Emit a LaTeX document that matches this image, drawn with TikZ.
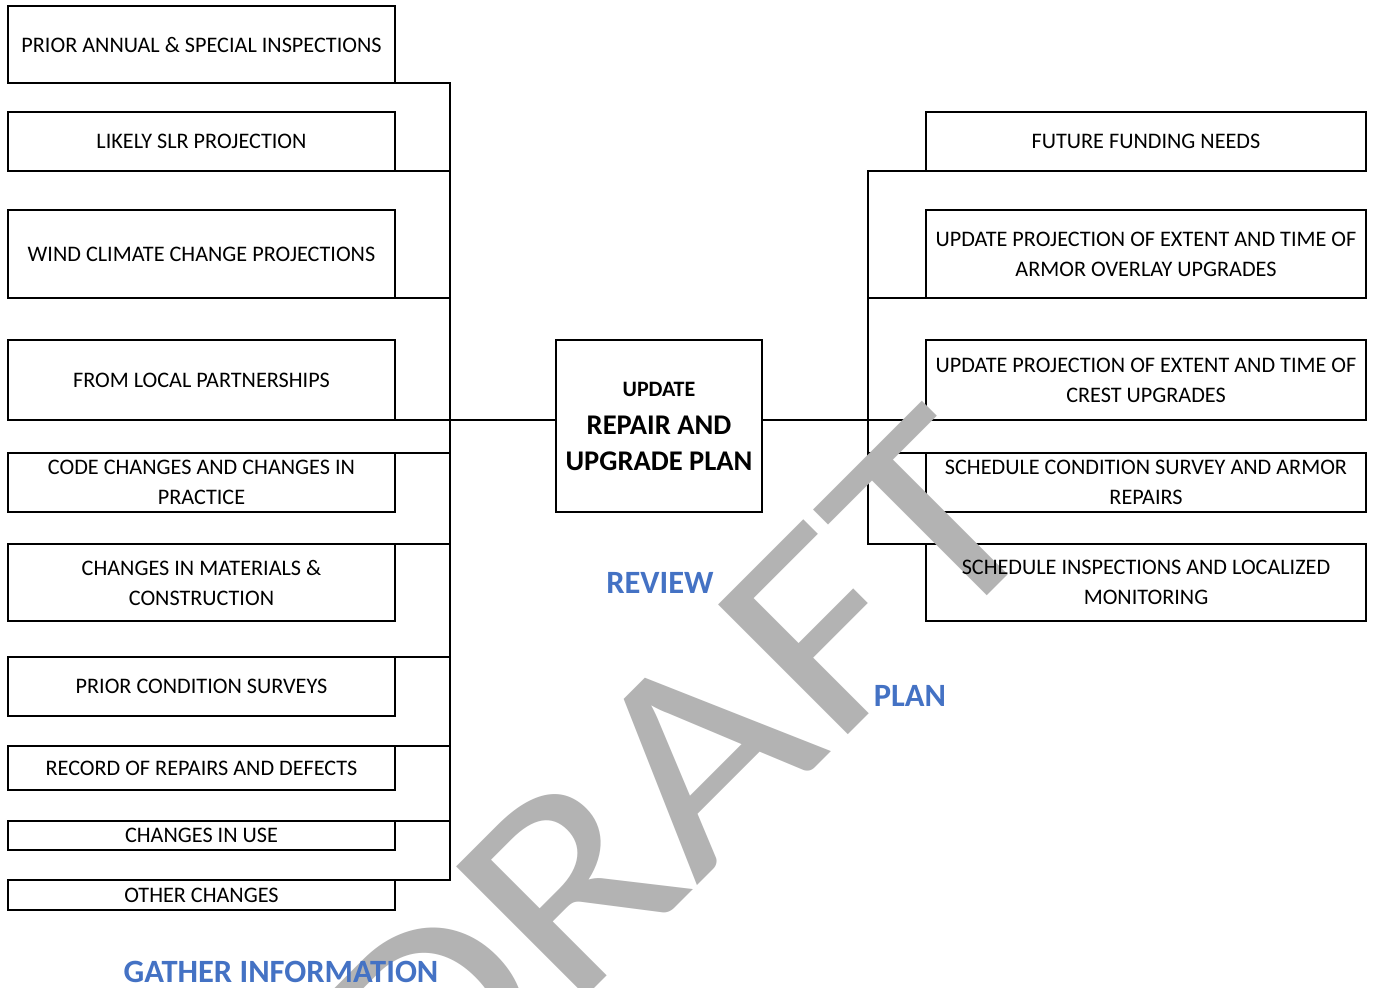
\documentclass[tikz,border=0pt]{standalone}
\usepackage{fontspec}
\setmainfont{Carlito}
\pgfdeclarelayer{frames}
\pgfdeclarelayer{wm}
\pgfsetlayers{frames,wm,main}
\definecolor{hdblue}{HTML}{4472C4}
\definecolor{wmgray}{RGB}{179,179,179}
\tikzset{
  lbox/.style={minimum width=387pt, inner sep=0pt, align=center, font=\fontsize{22.2}{30}\selectfont},
  rbox/.style={minimum width=440pt, inner sep=0pt, align=center, font=\fontsize{22.2}{30}\selectfont},
  cbox/.style={minimum width=206pt, minimum height=172pt, inner sep=0pt, align=center, font=\fontsize{28.5}{36}\selectfont\bfseries},
  frame/.style={line width=1.7pt},
  conn/.style={line width=1.7pt, line cap=rect},
  phase/.style={text=hdblue, inner sep=0pt, font=\fontsize{32.5}{38}\selectfont\bfseries},
  wmark/.style={text=wmgray, inner sep=0pt, rotate=45, xscale=1.16, anchor=base west, font=\fontsize{286}{286}\selectfont}
}
\begin{document}
\begin{tikzpicture}[x=1pt,y=-1pt]
\useasboundingbox (0,0) rectangle (1374,988);

% left column
\node[lbox, minimum height=77pt] (L1) at (201.5,44.5) {PRIOR ANNUAL \& SPECIAL INSPECTIONS};
\node[lbox, minimum height=59pt] (L2) at (201.5,141.5) {LIKELY SLR PROJECTION};
\node[lbox, minimum height=88pt] (L3) at (201.5,254) {WIND CLIMATE CHANGE PROJECTIONS};
\node[lbox, minimum height=80pt] (L4) at (201.5,380) {FROM LOCAL PARTNERSHIPS};
\node[lbox, minimum height=59pt] (L5) at (201.5,482.5) {CODE CHANGES AND CHANGES IN\\PRACTICE};
\node[lbox, minimum height=77pt] (L6) at (201.5,582.5) {CHANGES IN MATERIALS \&\\CONSTRUCTION};
\node[lbox, minimum height=59pt] (L7) at (201.5,686.5) {PRIOR CONDITION SURVEYS};
\node[lbox, minimum height=44pt] (L8) at (201.5,768) {RECORD OF REPAIRS AND DEFECTS};
\node[lbox, minimum height=29pt] (L9) at (201.5,835.5) {CHANGES IN USE};
\node[lbox, minimum height=30pt] (L10) at (201.5,895) {OTHER CHANGES};

% centre
\node[cbox] (C) at (659,426) {{\fontsize{22}{26}\selectfont UPDATE}\\[2pt]REPAIR AND\\UPGRADE PLAN};

% right column
\node[rbox, minimum height=59pt] (R1) at (1146,141.5) {FUTURE FUNDING NEEDS};
\node[rbox, minimum height=88pt] (R2) at (1146,254) {UPDATE PROJECTION OF EXTENT AND TIME OF\\ARMOR OVERLAY UPGRADES};
\node[rbox, minimum height=80pt] (R3) at (1146,380) {UPDATE PROJECTION OF EXTENT AND TIME OF\\CREST UPGRADES};
\node[rbox, minimum height=59pt] (R4) at (1146,482.5) {SCHEDULE CONDITION SURVEY AND ARMOR\\REPAIRS};
\node[rbox, minimum height=77pt] (R5) at (1146,582.5) {SCHEDULE INSPECTIONS AND LOCALIZED\\MONITORING};

% phase labels
\node[phase] (review) at (660,583) {REVIEW};
\node[phase] (plan) at (910,696) {PLAN};
\node[phase] (gather) at (281,972) {GATHER INFORMATION};

\coordinate (lbus) at (450,0);
\coordinate (rbus) at (868,0);

\begin{pgfonlayer}{frames}
  \fill[white] (0,0) rectangle (1374,988);
  \foreach \n in {L1,L2,L3,L4,L5,L6,L7,L8,L9,L10,C,R1,R2,R3,R4,R5}
    \draw[frame] (\n.north west) rectangle (\n.south east);
  % left bus
  \draw[conn] (L1.south east -| lbus) -- (L10.north east -| lbus);
  \foreach \n in {L1,L2,L3}
    \draw[conn] (\n.south east) -- (\n.south east -| lbus);
  \foreach \n in {L5,L6,L7,L8,L9,L10}
    \draw[conn] (\n.north east) -- (\n.north east -| lbus);
  \draw[conn] (L4.south east) -- (L4.south east -| C.west);
  % right bus
  \draw[conn] (R1.south west -| rbus) -- (R5.north west -| rbus);
  \foreach \n in {R1,R2}
    \draw[conn] (\n.south west) -- (\n.south west -| rbus);
  \foreach \n in {R4,R5}
    \draw[conn] (\n.north west) -- (\n.north west -| rbus);
  \draw[conn] (C.east |- R3.south west) -- (R3.south west);
\end{pgfonlayer}

\begin{pgfonlayer}{wm}
  \begin{scope}
    \clip (0,0) rectangle (1374,988);
    \node[wmark] (draft) at (425,1158) {DRAFT};
  \end{scope}
\end{pgfonlayer}
\end{tikzpicture}
\end{document}
